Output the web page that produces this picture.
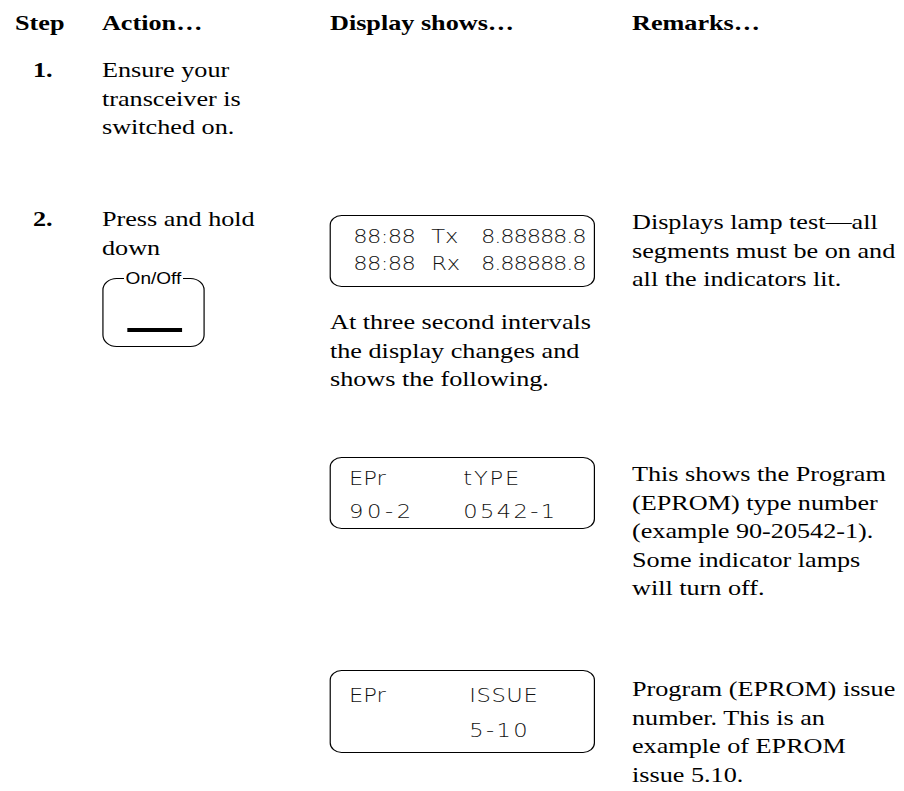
<!DOCTYPE html>
<html>
<head>
<meta charset="utf-8">
<script src="https://cdn.jsdelivr.net/npm/chart.js@4.4.1/dist/chart.umd.min.js"></script>
<style>
  html, body { margin: 0; padding: 0; background: #fff; }
  body { width: 904px; height: 791px; position: relative; overflow: hidden; }
  /* the source page is stretched sideways, so the whole sheet is too */
  #page { position: absolute; left: 0; top: 0; width: 760px; height: 791px;
          transform: scaleX(1.19); transform-origin: 0 0;
          font-family: "Liberation Serif", "Times New Roman", serif; color: #000; font-size: 22px; }
  .abs { position: absolute; white-space: nowrap; line-height: 28.5px; }
  .hd, .num { font-weight: bold; }
  .lcd { position: absolute; left: 277.3px; width: 223px; border: 1.5px solid #000;
         border-radius: 10px; box-sizing: border-box; }
  .lcd span { position: absolute; font-family: "DejaVu Sans", sans-serif; font-weight: 200;
              font-size: 19px; line-height: 19px; white-space: pre; color: #111; }
  fieldset.btn { position: absolute; left: 85.7px; top: 270px; width: 86.6px; height: 77px;
                 box-sizing: border-box; border: 1.5px solid #000; border-radius: 12px;
                 margin: 0; padding: 0; }
  fieldset.btn legend { margin: 0 auto; padding: 0 2px; font-family: "Liberation Sans", Arial, sans-serif;
                        font-size: 16px; line-height: 17px; }
  .bar { position: absolute; left: 106.7px; top: 328px; width: 46.2px; height: 3.5px; background: #000; }
</style>
</head>
<body>
<div id="page"></div>
<script>
// column headings
var headings = ["Step", "Action\u2026", "Display shows\u2026", "Remarks\u2026"];

// step rows
var stepNums = ["1.", "2."];
var actions = [
  ["Ensure your", "transceiver is", "switched on."],
  ["Press and hold", "down"]
];

// what each display panel reads, row by row
var displayRows = [
  [["88:88", "Tx", "8.88888.8"], ["88:88", "Rx", "8.88888.8"]],
  [["EPr", "tYPE"], ["90-2", "0542-1"]],
  [["EPr", "ISSUE"], ["", "5-10"]]
];
var displayNote = ["At three second intervals", "the display changes and", "shows the following."];

// remarks next to each panel
var remarks = [
  ["Displays lamp test\u2014all", "segments must be on and", "all the indicators lit."],
  ["This shows the Program", "(EPROM) type number", "(example 90-20542-1).", "Some indicator lamps", "will turn off."],
  ["Program (EPROM) issue", "number. This is an", "example of EPROM", "issue 5.10."]
];

// ---- layout ----
var headingX = [12.6, 85.7, 277.3, 531.1];
var stepBase = [78, 227];
var displayTop = [215, 457, 670];
var displayH = [72, 72, 83];
var rowMid = [[20, 47], [20, 53], [24, 59]];
var rowCols = [[18.5, 84, 126], [15, 111], [15, 116, 122]];
var rowSpacing = [[-0.5, 0, -1], [[0, 1.5], [3, 2]], [[0, 0.5], [0, 2]]];
var displayNoteBase = 330;
var remarkBase = [230, 482, 697];

var page = document.getElementById("page");
var LINE = 28.5;

function addText(txt, x, base, cls) {
  var d = document.createElement("div");
  d.className = "abs " + (cls || "");
  d.style.left = x + "px";
  d.style.top = (base - 21.7) + "px";
  d.textContent = txt;
  page.appendChild(d);
}
function addLines(lines, x, base, cls) {
  for (var i = 0; i < lines.length; i++) addText(lines[i], x, base + i * LINE, cls);
}
function spacingFor(p, r, c) {
  var sp = rowSpacing[p];
  if (Array.isArray(sp[0])) return sp[r][c];
  return sp[c];
}

for (var i = 0; i < headings.length; i++) addText(headings[i], headingX[i], 31, "hd");

for (var s = 0; s < stepNums.length; s++) {
  addText(stepNums[s], 27.7, stepBase[s], "num");
  addLines(actions[s], headingX[1], stepBase[s]);
}

// On/Off button
var fs = document.createElement("fieldset");
fs.className = "btn";
var lg = document.createElement("legend");
lg.textContent = "On/Off";
fs.appendChild(lg);
page.appendChild(fs);
var bar = document.createElement("div");
bar.className = "bar";
page.appendChild(bar);

for (var p = 0; p < displayRows.length; p++) {
  var box = document.createElement("div");
  box.className = "lcd";
  box.style.top = displayTop[p] + "px";
  box.style.height = displayH[p] + "px";
  var rows = displayRows[p];
  for (var r = 0; r < rows.length; r++) {
    for (var c = 0; c < rows[r].length; c++) {
      if (!rows[r][c]) continue;
      var sp = document.createElement("span");
      sp.textContent = rows[r][c];
      sp.style.left = rowCols[p][c] + "px";
      sp.style.top = (rowMid[p][r] - 9.2) + "px";
      sp.style.letterSpacing = spacingFor(p, r, c) + "px";
      box.appendChild(sp);
    }
  }
  page.appendChild(box);
  addLines(remarks[p], headingX[3], remarkBase[p]);
}
addLines(displayNote, headingX[2], displayNoteBase);
</script>
</body>
</html>
